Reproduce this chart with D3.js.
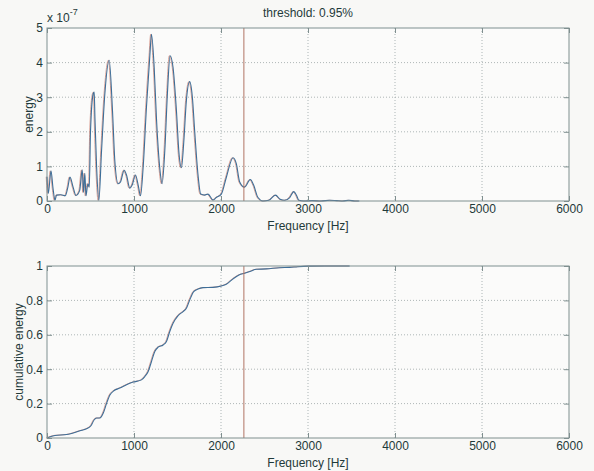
<!DOCTYPE html>
<html><head><meta charset="utf-8">
<script src="https://cdn.jsdelivr.net/npm/d3@7"></script>
<style>
html,body{margin:0;padding:0;background:#f8f8f6;}
svg{display:block;font-family:"Liberation Sans",Arial,sans-serif;}
</style></head>
<body>
<svg id="chart" width="594" height="471"></svg>
<script>
// ---- data ----
const titleText = "threshold: 0.95%";
const thresholdHz = 2263;
const xTicks = [0, 1000, 2000, 3000, 4000, 5000, 6000];
const energyTicks = [0, 1, 2, 3, 4, 5];
const cumTicks = [0, 0.2, 0.4, 0.6, 0.8, 1];
const cumTickLabels = ["0", "0.2", "0.4", "0.6", "0.8", "1"];

const energyFreq = [0,15,46,70,92,110,160,210,240,264,300,333,375,405,420,435,448,470,486,500,531,543,551,570,596,627,665,715,753,780,818,845,887,914,952,979,1017,1048,1075,1105,1143,1182,1201,1232,1258,1296,1323,1354,1384,1415,1449,1488,1518,1545,1572,1602,1640,1671,1698,1736,1767,1813,1851,1908,1946,2004,2061,2138,2176,2215,2272,2337,2375,2425,2482,2550,2627,2680,2730,2790,2837,2870,2895,2950,3050,3150,3250,3330,3400,3470,3540,3590];
const energyVal = [0.70,0.22,0.87,0.35,0.02,0.17,0.18,0.15,0.40,0.69,0.40,0.16,0.30,0.90,0.25,0.80,0.15,0.50,0.40,2.00,3.10,3.15,2.40,1.00,0.02,1.45,3.10,4.07,2.60,1.15,0.50,0.55,0.89,0.75,0.37,0.46,0.75,0.46,0.15,0.96,2.70,4.20,4.82,3.86,2.40,0.96,0.50,1.45,3.10,4.20,3.86,2.60,1.35,0.96,1.70,2.90,3.45,3.00,2.00,0.75,0.20,0.17,0.20,0.03,0.10,0.20,0.68,1.25,1.08,0.55,0.40,0.62,0.46,0.10,0.00,0.02,0.17,0.05,0.02,0.10,0.27,0.15,0.02,0.00,0.01,0.00,0.02,0.01,0.00,0.02,0.00,0.00];

const cumFreq = [0,92,225,379,455,505,543,570,608,647,684,723,772,837,914,990,1086,1124,1163,1201,1239,1277,1335,1373,1411,1449,1507,1564,1602,1641,1686,1736,1793,1908,2004,2061,2138,2207,2272,2348,2405,2520,2673,2787,2883,3000,3200,3480];
const cumVal = [0,0.015,0.02,0.042,0.054,0.071,0.106,0.116,0.116,0.145,0.2,0.25,0.276,0.29,0.31,0.325,0.338,0.357,0.387,0.445,0.503,0.528,0.541,0.561,0.619,0.667,0.712,0.735,0.754,0.803,0.851,0.866,0.874,0.876,0.884,0.894,0.925,0.948,0.958,0.971,0.981,0.983,0.99,0.992,0.996,0.999,1.0,1.0];

// ---- layout ----
const svg = d3.select("#chart");
const X0 = 47, X1 = 569;
const axColor = "#7f8f8f", txtColor = "#1f3a3a", gridColor = "#9aa4a4";
const lineBlue = "#3d6e98", lineRed = "#d2897a", threshColor = "#b07464";

function panel(yTop, yBot, yDomain, yTicks, yLabels, yTitle, yTitleX, xf, vf, xTitleY) {
  const x = d3.scaleLinear().domain([0, 6000]).range([X0, X1]);
  const y = d3.scaleLinear().domain(yDomain).range([yBot, yTop]);
  const g = svg.append("g");
  g.append("rect").attr("x", X0).attr("y", yTop).attr("width", X1 - X0).attr("height", yBot - yTop).attr("fill", "#fbfbfa");
  // grid
  g.selectAll(".gx").data(xTicks.slice(1, -1)).enter().append("line")
    .attr("x1", d => x(d)).attr("x2", d => x(d)).attr("y1", yTop).attr("y2", yBot)
    .attr("stroke", gridColor).attr("stroke-width", 0.8).attr("stroke-dasharray", "1,2");
  g.selectAll(".gy").data(yTicks.slice(1, -1)).enter().append("line")
    .attr("x1", X0).attr("x2", X1).attr("y1", d => y(d)).attr("y2", d => y(d))
    .attr("stroke", gridColor).attr("stroke-width", 0.8).attr("stroke-dasharray", "1,2");
  // curve
  const pts = xf.map((f, i) => [f, vf[i]]);
  const line = d3.line().x(d => x(d[0])).y(d => y(d[1])).curve(d3.curveMonotoneX);
  g.append("path").attr("d", line(pts)).attr("fill", "none").attr("stroke", lineRed)
    .attr("stroke-width", 1).attr("transform", "translate(-0.8,0)").attr("opacity", 0.8);
  g.append("path").attr("d", line(pts)).attr("fill", "none").attr("stroke", lineBlue).attr("stroke-width", 1.1);
  // threshold
  g.append("line").attr("x1", x(thresholdHz)).attr("x2", x(thresholdHz)).attr("y1", yTop).attr("y2", yBot)
    .attr("stroke", threshColor).attr("stroke-width", 1);
  // box
  g.append("rect").attr("x", X0).attr("y", yTop).attr("width", X1 - X0).attr("height", yBot - yTop)
    .attr("fill", "none").attr("stroke", axColor).attr("stroke-width", 1);
  // axes with inside ticks
  const ax = g.append("g").attr("transform", `translate(0,${yBot})`)
    .call(d3.axisBottom(x).tickValues(xTicks).tickSize(-5).tickPadding(3).tickFormat(d3.format("d")));
  const axT = g.append("g").attr("transform", `translate(0,${yTop})`)
    .call(d3.axisTop(x).tickValues(xTicks).tickSize(-5).tickFormat(""));
  const ay = g.append("g").attr("transform", `translate(${X0},0)`)
    .call(d3.axisLeft(y).tickValues(yTicks).tickSize(-5).tickPadding(4).tickFormat((d, i) => yLabels[i]));
  const ayR = g.append("g").attr("transform", `translate(${X1},0)`)
    .call(d3.axisRight(y).tickValues(yTicks).tickSize(-5).tickFormat(""));
  [ax, axT, ay, ayR].forEach(a => {
    a.select(".domain").remove();
    a.selectAll("line").attr("stroke", axColor);
    a.selectAll("text").attr("fill", txtColor).style("font-size", "12px").style("font-family", "Liberation Sans, Arial, sans-serif");
  });
  g.append("text").attr("x", (X0 + X1) / 2).attr("y", xTitleY).attr("text-anchor", "middle")
    .attr("fill", txtColor).style("font-size", "12px").text("Frequency [Hz]");
  g.append("text").attr("transform", `translate(${yTitleX},${(yTop + yBot) / 2}) rotate(-90)`)
    .attr("text-anchor", "middle").attr("fill", txtColor).style("font-size", "12px").text(yTitle);
  return g;
}

panel(28, 201, [0, 5], energyTicks, energyTicks.map(String), "energy", 33, energyFreq, energyVal, 230);
panel(266, 438, [0, 1], cumTicks, cumTickLabels, "cumulative energy", 23, cumFreq, cumVal, 467);

// title and exponent
svg.append("text").attr("x", 308).attr("y", 17).attr("text-anchor", "middle")
  .attr("fill", txtColor).style("font-size", "12px").text(titleText);
const ex = svg.append("text").attr("x", 47).attr("y", 22).attr("fill", txtColor).style("font-size", "12px");
ex.append("tspan").text("x 10");
ex.append("tspan").attr("dy", -7).style("font-size", "9px").text("-7");
</script>
</body></html>
